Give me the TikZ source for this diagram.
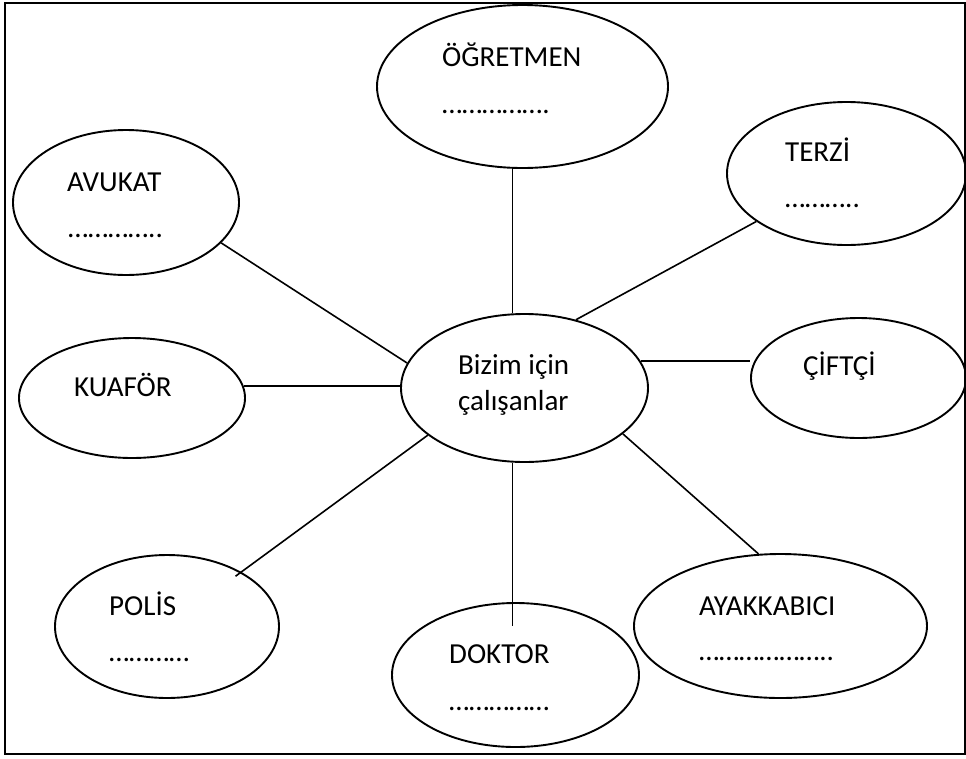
\documentclass[tikz,border=0pt]{standalone}
\usepackage{fontspec}
\setmainfont{Carlito}
\usetikzlibrary{shapes.geometric,calc}
\tikzset{
  ell/.style={draw, ellipse, line width=1.9pt, inner sep=0pt},
  conn/.style={line width=1.6pt},
  lbl/.style={anchor=base west, inner sep=0pt, font=\fontsize{29}{34}\selectfont},
  frame/.style={line width=2pt}
}
\begin{document}
\begin{tikzpicture}[x=1pt,y=-1pt]
\useasboundingbox (0,0) rectangle (966,758);
\draw[frame] (5,3) rectangle (965,754);

% ellipses
\node[ell, minimum width=291pt, minimum height=163pt] (ogr) at (522.5,86.5) {};
\node[ell, minimum width=247pt, minimum height=148pt] (c) at (524.5,388) {};
\node[ell, minimum width=226pt, minimum height=145pt] (av) at (126,202.5) {};
\node[ell, minimum width=226pt, minimum height=120pt] (ku) at (132,398) {};
\node[ell, minimum width=224pt, minimum height=143pt] (pol) at (167,626.5) {};
\node[ell, minimum width=247pt, minimum height=144pt] (dok) at (515.5,675) {};
\node[ell, minimum width=293pt, minimum height=144pt] (ay) at (780.5,626) {};
\node[ell, minimum width=215pt, minimum height=120pt] (ci) at (858.5,378) {};
\node[ell, minimum width=239pt, minimum height=143pt] (tz) at (846.5,173.5) {};

% texts
\node[lbl] (togr) at (442,66) {ÖĞRETMEN};
\node[lbl] (dogr) at (442,113) {…………….};
\node[lbl] (tc1) at (458,374) {Bizim için};
\node[lbl] (tc2) at (458,410) {çalışanlar};
\node[lbl] (tav) at (67,191) {AVUKAT};
\node[lbl] (dav) at (68,237) {…………..};
\node[lbl] (tku) at (74,396) {KUAFÖR};
\node[lbl] (tpol) at (109,615) {POLİS};
\node[lbl] (dpol) at (109,661) {…………};
\node[lbl] (tdok) at (449,663) {DOKTOR};
\node[lbl] (ddok) at (449,710) {……………};
\node[lbl] (tay) at (699,615) {AYAKKABICI};
\node[lbl] (day) at (699,660) {………………..};
\node[lbl] (tci) at (803,375) {ÇİFTÇİ};
\node[lbl] (ttz) at (785,161) {TERZİ};
\node[lbl] (dtz) at (785,207) {………..};

% connectors
\draw[conn] (c.99) -- (c.99 |- ogr.south);
\draw[conn] (c.53) -- (tz.208);
\draw[conn] (c.168) -- (av.337);
\draw[conn] (ku.6) -- (ku.6 -| c.west);
\draw[conn] (c.13) -- (c.13 -| ci.west);
\draw[conn, shorten >=85pt] (c.206) -- (pol.center);
\draw[conn, shorten >=49pt] (c.261) -- (c.261 |- dok.center);
\draw[conn] (c.335) -- (ay.107);
\end{tikzpicture}
\end{document}
